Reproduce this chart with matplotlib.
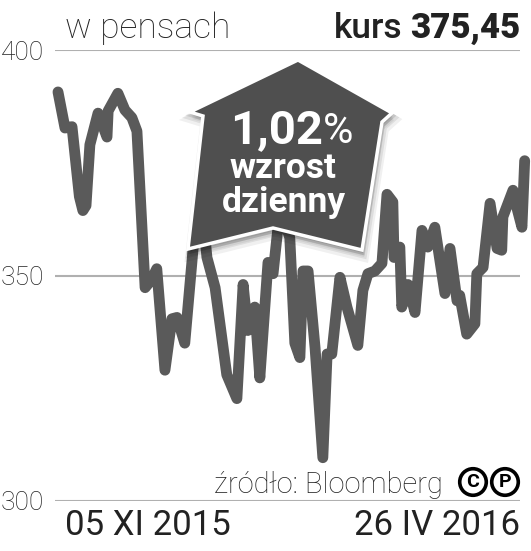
import numpy as np
import matplotlib
matplotlib.use("Agg")
import matplotlib.pyplot as plt
from matplotlib.patches import Polygon

# kurs w pensach, 05 XI 2015 - 26 IV 2016 (dzien sesji od startu, wartosc)
days = [0, 1.8, 3.6, 5.5, 6.4, 7.2, 8.2, 10.3, 12.6, 12.9, 15.4, 17.2, 19.0, 20.3,
        22.4, 24.0, 25.4, 27.5, 29.3, 30.6, 32.6, 34.7, 36.5, 38.3, 40.4, 43.4,
        46.0, 47.6, 48.8, 50.6, 51.9, 54.0, 55.3, 57.1, 59.6, 60.9, 62.2, 63.0,
        64.3, 66.1, 68.1, 69.2, 70.4, 72.5, 74.3, 77.1, 78.4, 79.7, 81.5, 83.3,
        84.6, 86.1, 86.4, 87.9, 88.4, 90.0, 91.8, 93.6, 95.1, 96.9, 99.5, 100.8,
        102.6, 103.3, 105.1, 107.2, 107.7, 109.3, 111.1, 112.9, 114.1, 114.4,
        117.0, 118.0, 119.3, 120.0]
kurs = [390.7, 382.7, 383.0, 367.5, 364.4, 365.5, 379.0, 386.0, 380.7, 386.5,
        390.4, 386.7, 385.0, 382.0, 347.3, 349.0, 351.5, 329.0, 340.4, 340.7,
        335.0, 355.6, 370.0, 354.0, 347.3, 328.0, 322.7, 348.0, 337.8, 343.0,
        327.3, 352.9, 350.4, 365.0, 358.4, 335.0, 331.8, 351.0, 351.0, 334.0,
        309.6, 332.6, 332.6, 349.6, 343.0, 334.5, 346.7, 350.4, 351.0, 352.7,
        368.0, 366.3, 354.0, 356.3, 343.0, 348.0, 341.8, 360.0, 356.3, 360.7,
        346.0, 356.0, 344.4, 345.6, 337.0, 339.3, 350.4, 351.8, 366.0, 356.0,
        355.6, 363.0, 368.9, 365.0, 360.7, 375.45]
y_ticks = [300, 350, 400]
date_start = "05 XI 2015"
date_end = "26 IV 2016"

W, H = 531, 551
fig = plt.figure(figsize=(W / 100, H / 100), dpi=100)
fig.patch.set_facecolor("white")


def fx(px):
    return px / W


def fy(py):
    return 1 - py / H


light = dict(family=["Roboto", "DejaVu Sans"], weight="light")
bold = dict(family=["Roboto", "DejaVu Sans"], weight="bold")

ax = fig.add_axes([fx(55), fy(501), (520 - 55) / W, 451 / H])
ax.plot(days, kurs, color="#5a5a5a", lw=7.8, solid_joinstyle="round",
        solid_capstyle="round", clip_on=False, zorder=3)
ax.set_ylim(300, 400)
ax.set_xlim(-0.77, 118.8)
ax.set_yticks(y_ticks)
ax.set_yticklabels([str(v) for v in y_ticks], fontsize=19, color="#222222", **light)
ax.tick_params(axis="y", length=0, pad=8)
ax.set_xticks([])
ax.grid(axis="y", color="#b0b0b0", lw=1.5)
for s in ax.spines.values():
    s.set_visible(False)

# naglowek
fig.text(fx(65), fy(38), "w pensach", fontsize=25.5, color="#222222", va="baseline", **light)
fig.text(fx(520), fy(38), "375,45", fontsize=25, color="#222222", ha="right",
         va="baseline", family=["Roboto", "DejaVu Sans"], weight="black")
fig.text(fx(402), fy(38), "kurs", fontsize=25.5, color="#222222", ha="right",
         va="baseline", family=["Roboto", "DejaVu Sans"], weight="medium")

# daty
fig.text(fx(65), fy(535), date_start, fontsize=25, color="#222222", va="baseline",
         family=["Roboto", "DejaVu Sans"])
fig.text(fx(520), fy(535), date_end, fontsize=25, color="#222222", va="baseline",
         ha="right", family=["Roboto", "DejaVu Sans"])

# zrodlo
fig.text(fx(443), fy(493), "źródło: Bloomberg", fontsize=21, color="#222222",
         ha="right", va="baseline", **light)
for cx, ch in [(473, "C"), (505, "P")]:
    fig.text(fx(cx), fy(482), ch, fontsize=14, ha="center", va="center",
             color="black", **bold,
             bbox=dict(boxstyle="circle,pad=0.22", fc="white", ec="black", lw=2.6))

# strzalka z opisem
arrow_px = [(190, 112), (203, 116), (188, 249), (273, 228), (362, 250),
            (382, 122), (392, 113), (298, 60)]
for off, a in [(7, 0.06), (5, 0.08), (3, 0.1)]:
    fig.patches.append(Polygon([(fx(x + off * 0.3), fy(y + off)) for x, y in arrow_px],
                               closed=True, transform=fig.transFigure,
                               fc="black", ec="black", lw=off, alpha=a, zorder=4))
fig.patches.append(Polygon([(fx(x), fy(y)) for x, y in arrow_px], closed=True,
                           transform=fig.transFigure, fc="#4f4f4f", ec="white",
                           lw=2.5, joinstyle="miter", zorder=5))
fig.text(fx(276), fy(143), "1,02", fontsize=34, color="white", ha="center",
         va="baseline", zorder=6, **bold)
fig.text(fx(323), fy(143), "%", fontsize=30, color="white", ha="left",
         va="baseline", zorder=6, family=["Roboto", "DejaVu Sans"])
fig.text(fx(283), fy(178), "wzrost", fontsize=25.5, color="white", ha="center",
         va="baseline", zorder=6, **bold)
fig.text(fx(284), fy(212), "dzienny", fontsize=25.5, color="white", ha="center",
         va="baseline", zorder=6, **bold)

fig.savefig("out.png", dpi=100, facecolor="white")
